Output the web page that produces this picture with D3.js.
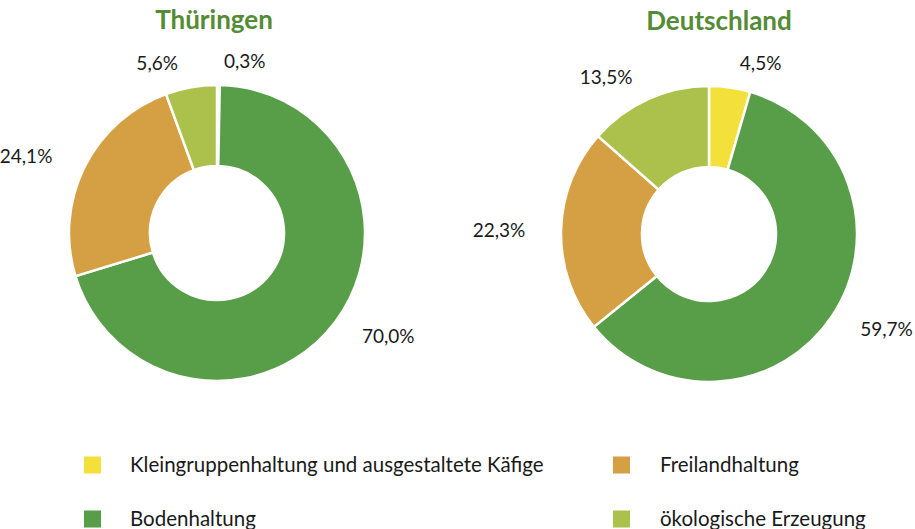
<!DOCTYPE html>
<html>
<head>
<meta charset="utf-8">
<script src="https://cdn.jsdelivr.net/npm/d3@7"></script>
<style>
  body { margin: 0; background: #fff; }
  svg { display: block; font-family: "Source Sans Pro", Lato, "Noto Sans", sans-serif; }
</style>
</head>
<body>
<div id="chart"></div>
<script>
var svgWidth = 915;
var svgHeight = 529;

// categories in drawing order (clockwise from 12 o'clock)
var categories = [
  "Kleingruppenhaltung und ausgestaltete Käfige",
  "Bodenhaltung",
  "Freilandhaltung",
  "ökologische Erzeugung"
];
var colors = ["#f3e03b", "#589e48", "#d4a043", "#acc14b"];

var regions = ["Thüringen", "Deutschland"];
var thueringenValues = [0.3, 70.0, 24.1, 5.6];
var deutschlandValues = [4.5, 59.7, 22.3, 13.5];
var seriesValues = [thueringenValues, deutschlandValues];

var outerRadius = 148;
var innerRadius = 67;
var pieCenters = [{ x: 217, y: 233 }, { x: 709, y: 234 }];

var svg = d3
  .select("#chart")
  .append("svg")
  .attr("width", svgWidth)
  .attr("height", svgHeight);

var pie = d3.pie().sort(null).value(d => d);
var arc = d3.arc().innerRadius(innerRadius).outerRadius(outerRadius);

var fmt = v => d3.format(".1f")(v).replace(".", ",") + "%";

regions.forEach(function(region, i) {
  var c = pieCenters[i];
  var g = svg.append("g").attr("transform", `translate(${c.x}, ${c.y})`);

  // title
  svg
    .append("text")
    .attr("x", c.x + (i === 0 ? -3 : 10))
    .attr("y", c.y - 204)
    .attr("text-anchor", "middle")
    .attr("font-size", 26)
    .attr("font-weight", "bold")
    .attr("fill", "#548b35")
    .text(region);

  var arcs = pie(seriesValues[i]);

  g.selectAll("path")
    .data(arcs)
    .enter()
    .append("path")
    .attr("d", arc)
    .attr("fill", (d, j) => colors[j])
    .attr("stroke", "#fff")
    .attr("stroke-width", 2.5);

  // outside labels, pushed sideways away from the vertical axis
  g.selectAll(".lbl")
    .data(arcs)
    .enter()
    .append("text")
    .attr("class", "lbl")
    .attr("x", function(d) {
      var a = (d.startAngle + d.endAngle) / 2;
      return 182 * Math.sin(a) + (Math.sin(a) >= 0 ? 26 : -28);
    })
    .attr("y", function(d) {
      var a = (d.startAngle + d.endAngle) / 2;
      return -172 * Math.cos(a);
    })
    .attr("dy", "0.35em")
    .attr("text-anchor", "middle")
    .attr("font-size", 19)
    .attr("fill", "#1a1a1a")
    .text(d => fmt(d.data));
});

// legend, two columns filled top to bottom
var legendCols = [84, 613];
var legendRows = [465, 519];

var legend = svg
  .selectAll(".legend")
  .data(categories)
  .enter()
  .append("g")
  .attr("class", "legend")
  .attr("transform", (d, i) => `translate(${legendCols[Math.floor(i / 2)]}, ${legendRows[i % 2]})`);

legend
  .append("rect")
  .attr("x", 0)
  .attr("y", -8.5)
  .attr("width", 17)
  .attr("height", 17)
  .attr("fill", (d, i) => colors[i]);

legend
  .append("text")
  .attr("x", (d, i) => (i < 2 ? 46 : 47))
  .attr("y", 0)
  .attr("dy", "0.35em")
  .attr("font-size", 20.5)
  .attr("fill", "#1a1a1a")
  .text(d => d);
</script>
</body>
</html>
